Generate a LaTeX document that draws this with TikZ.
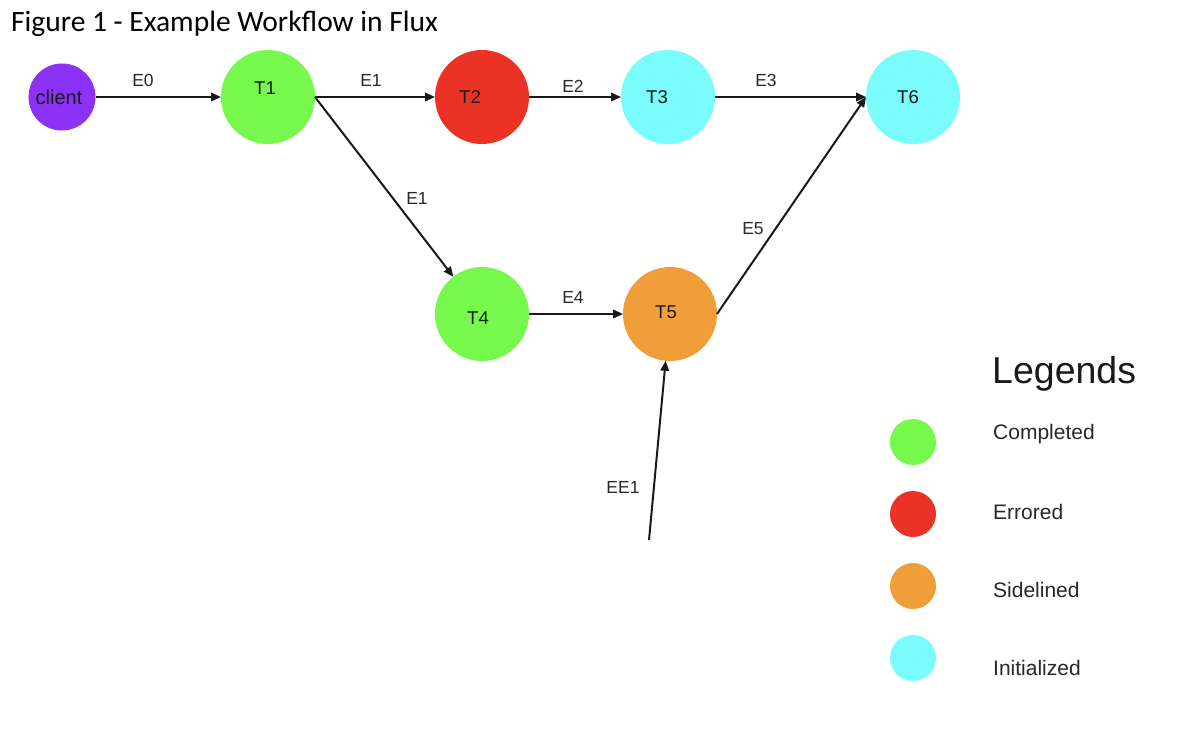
\documentclass[tikz,border=0pt]{standalone}
\usepackage{fontspec}
\setmainfont{Liberation Sans}
\newfontfamily\titlefont{Carlito}
\usetikzlibrary{arrows.meta}
\definecolor{cpurple}{RGB}{140,50,245}
\definecolor{cgreen}{RGB}{119,248,76}
\definecolor{cred}{RGB}{234,51,36}
\definecolor{corange}{RGB}{240,158,58}
\definecolor{ccyan}{RGB}{122,252,253}
\definecolor{ctext}{RGB}{40,40,40}
\begin{document}
\begin{tikzpicture}[x=1pt,y=-1pt,
  task/.style={circle,inner sep=0pt,outer sep=0pt,minimum size=94pt,draw=none},
  tasklabel/.style={font=\fontsize{18.5}{19}\selectfont,text=black!90},
  edgelabel/.style={font=\fontsize{17.5}{18}\selectfont,text=ctext,inner sep=0pt},
  legdot/.style={circle,inner sep=0pt,outer sep=0pt,minimum size=46pt,draw=none},
  legtext/.style={font=\fontsize{21}{21}\selectfont,text=ctext,anchor=west,inner sep=0pt},
  flow/.style={line width=2pt,draw=black!90,-{Triangle[length=10pt,width=8.5pt]}}]
\useasboundingbox (0,0) rectangle (1194,738);
\fill[white] (0,0) rectangle (1194,738);
% title
\node[anchor=west,inner sep=0pt,font=\titlefont\fontsize{29.5}{30}\selectfont] (title) at (11,24) {Figure 1 - Example Workflow in Flux};
% nodes
\node[task,fill=cpurple,minimum size=67pt] (client) at (62,97) {};
\node[tasklabel,font=\fontsize{20}{20}\selectfont] (clientlbl) at (59,97) {client};
\node[task,fill=cgreen] (t1) at (268,97) {};
\node[tasklabel] (t1lbl) at (265,88) {T1};
\node[task,fill=cred] (t2) at (482,97) {};
\node[tasklabel] (t2lbl) at (470,97) {T2};
\node[task,fill=ccyan] (t3) at (668,97) {};
\node[tasklabel] (t3lbl) at (657,97) {T3};
\node[task,fill=ccyan] (t6) at (913,97) {};
\node[tasklabel] (t6lbl) at (908,97) {T6};
\node[task,fill=cgreen] (t4) at (482,314) {};
\node[tasklabel] (t4lbl) at (478,318) {T4};
\node[task,fill=corange] (t5) at (670,314) {};
\node[tasklabel] (t5lbl) at (666,312) {T5};
\coordinate (ee) at (649,540);
% edges
\draw[flow] (client) -- (t1);
\draw[flow] (t1.east) -- (t2);
\draw[flow] (t2) -- (t3);
\draw[flow] (t3) -- (t6.west);
\draw[flow] (t1.east) -- (t4);
\draw[flow] (t4) -- (t5);
\draw[flow] (t5.east) -- (t6.west);
\draw[flow] (ee) -- (t5);
% edge labels
\node[edgelabel] (e0) at (143,80) {E0};
\node[edgelabel] (e1a) at (371,80) {E1};
\node[edgelabel] (e2) at (573,86) {E2};
\node[edgelabel] (e3) at (766,80) {E3};
\node[edgelabel] (e1b) at (417,198) {E1};
\node[edgelabel] (e4) at (573,297) {E4};
\node[edgelabel] (e5) at (753,229) {E5};
\node[edgelabel] (ee1) at (623,487) {EE1};
% legend
\node[anchor=west,inner sep=0pt,font=\fontsize{37.5}{38}\selectfont,text=black!90] (leg) at (992,374) {Legends};
\node[legdot,fill=cgreen] (lg1) at (913,442) {};
\node[legdot,fill=cred] (lg2) at (913,514) {};
\node[legdot,fill=corange] (lg3) at (913,586) {};
\node[legdot,fill=ccyan] (lg4) at (913,658) {};
\node[legtext] (lt1) at (993,434) {Completed};
\node[legtext] (lt2) at (993,512) {Errored};
\node[legtext] (lt3) at (993,590) {Sidelined};
\node[legtext] (lt4) at (993,668) {Initialized};
\end{tikzpicture}
\end{document}
